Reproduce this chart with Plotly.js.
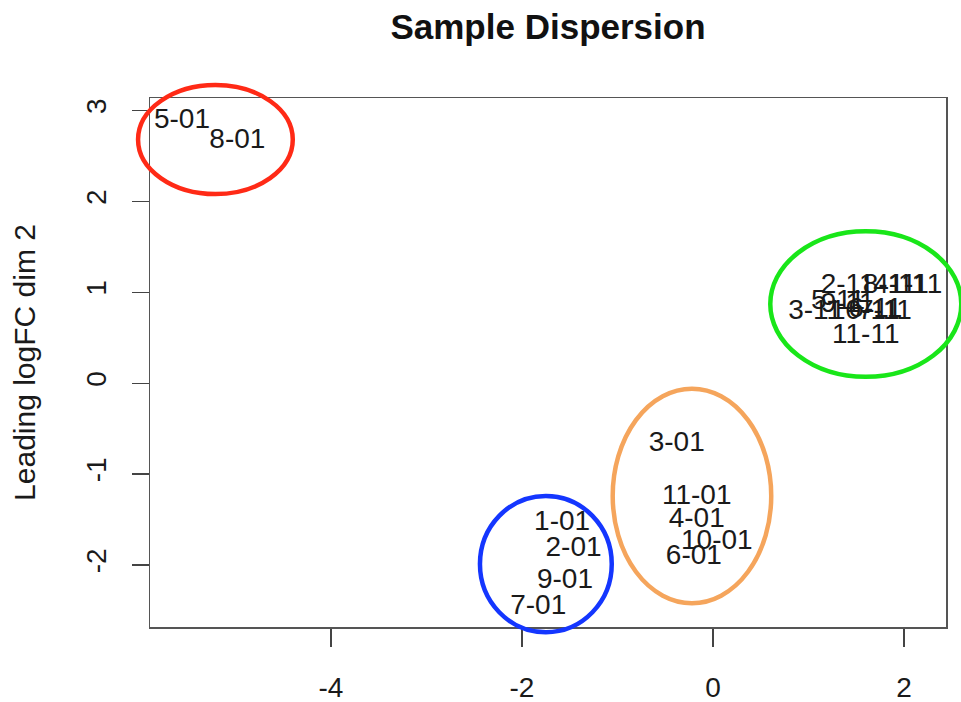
<!DOCTYPE html>
<html>
<head>
<meta charset="utf-8">
<script src="https://cdn.plot.ly/plotly-3.0.1.min.js"></script>
<style>html,body{margin:0;padding:0;background:#fff}#chart{width:961px;height:702px}</style>
</head>
<body>
<div id="chart"></div>
<script>
// Sample labels and MDS coordinates (leading logFC dims 1 and 2)
const sampleLabels = ["5-01","8-01","3-01","11-01","4-01","10-01","6-01","1-01","2-01","9-01","7-01",
  "2-11","8-11","4-11","1-11","3-11","5-11","9-11","10-11","6-11","7-11","11-11"];
const dim1 = [-5.56,-4.98,-0.38,-0.17,-0.17,0.04,-0.20,-1.58,-1.46,-1.55,-1.83,
  1.41,1.85,1.96,2.12,1.07,1.31,1.41,1.59,1.70,1.80,1.60];
const dim2 = [2.88,2.66,-0.67,-1.25,-1.51,-1.75,-1.91,-1.54,-1.82,-2.18,-2.46,
  1.07,1.07,1.07,1.07,0.78,0.89,0.86,0.78,0.80,0.78,0.52];

// Group ellipses: centre (x,y), radii (rx, ry), colour
const ellCx = [-5.21, 1.60, -1.75, -0.22];
const ellCy = [2.68, 0.87, -1.99, -1.24];
const ellRx = [0.81, 1.00, 0.69, 0.83];
const ellRy = [0.60, 0.80, 0.75, 1.18];
const ellColors = ["#ff2a16", "#19e619", "#1436ff", "#f5a55c"];

const xTicks = [-4, -2, 0, 2];
const yTicks = [-2, -1, 0, 1, 2, 3];
const xRange = [-5.895, 2.44];
const yRange = [-2.682, 3.137];

const FONT = "Liberation Sans, Arial, Helvetica, sans-serif";

function toPaperX(v){ return (v - xRange[0]) / (xRange[1] - xRange[0]); }
function toPaperY(v){ return (v - yRange[0]) / (yRange[1] - yRange[0]); }

const shapes = ellCx.map((cx, i) => ({
  type: "circle", xref: "paper", yref: "paper",
  x0: toPaperX(cx - ellRx[i]), x1: toPaperX(cx + ellRx[i]),
  y0: toPaperY(ellCy[i] - ellRy[i]), y1: toPaperY(ellCy[i] + ellRy[i]),
  line: {color: ellColors[i], width: 4.5}, layer: "above"
}));

const trace = {
  type: "scatter", mode: "text",
  x: dim1, y: dim2, text: sampleLabels,
  textposition: "middle center",
  textfont: {family: FONT, size: 28, color: "#1a1a1a"},
  cliponaxis: false, hoverinfo: "text", showlegend: false
};

const layout = {
  width: 961, height: 702,
  margin: {l: 150, r: 15, t: 98, b: 75},
  paper_bgcolor: "#ffffff", plot_bgcolor: "#ffffff",
  font: {family: FONT, color: "#1a1a1a"},
  title: {text: "<b>Sample Dispersion</b>", font: {family: FONT, size: 35, color: "#111"},
    x: 0.5, xref: "paper", y: 1 - 27/702, yref: "container", yanchor: "middle"},
  xaxis: {range: xRange, tickmode: "array", tickvals: xTicks, ticktext: xTicks.map(String),
    showgrid: false, zeroline: false, showline: true, mirror: true, linecolor: "#555", linewidth: 1.5,
    ticks: "outside", ticklen: 18, tickwidth: 1.3, tickcolor: "#444",
    tickfont: {family: FONT, size: 28, color: "#1a1a1a"}, ticklabelstandoff: 17},
  yaxis: {range: yRange, tickmode: "array", tickvals: yTicks, ticktext: yTicks.map(String),
    showgrid: false, zeroline: false, showline: true, mirror: true, linecolor: "#555", linewidth: 1.5,
    ticks: "outside", ticklen: 17, tickwidth: 1.3, tickcolor: "#444", tickangle: -90,
    tickfont: {family: FONT, size: 28, color: "#1a1a1a"}, ticklabelstandoff: 14,
    title: {text: "Leading logFC dim 2", font: {family: FONT, size: 30, color: "#1a1a1a"}, standoff: 37}},
  shapes: shapes
};

Plotly.newPlot("chart", [trace], layout, {displayModeBar: false, staticPlot: true});
</script>
</body>
</html>
